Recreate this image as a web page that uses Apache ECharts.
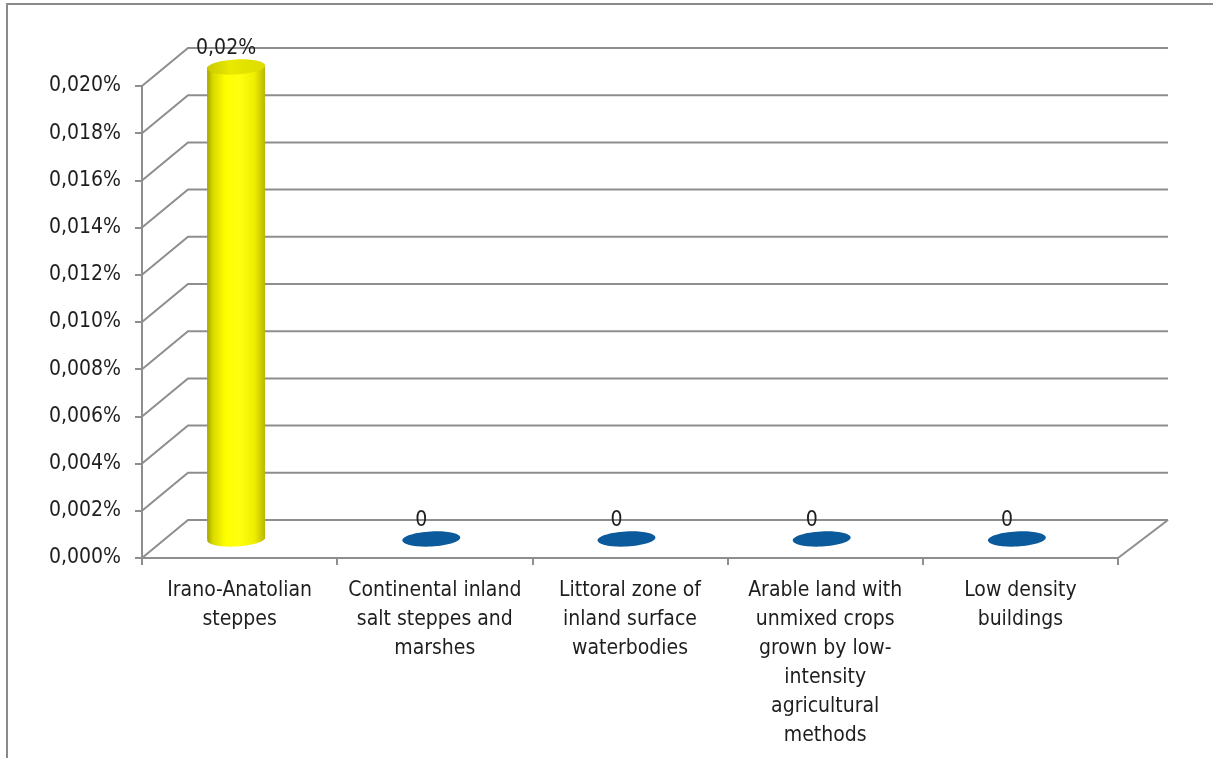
<!DOCTYPE html>
<html>
<head>
<meta charset="utf-8">
<title>Habitat shares</title>
<script src="https://cdn.jsdelivr.net/npm/echarts@6/dist/echarts.min.js"></script>
<style>
  html, body { margin: 0; padding: 0; background: #ffffff; }
  #chart { width: 1213px; height: 758px; }
</style>
</head>
<body>
<div id="chart"></div>
<script>
// Categories (display text, wrapped as on the axis)
const categories = [
  'Irano-Anatolian\nsteppes',
  'Continental inland\nsalt steppes and\nmarshes',
  'Littoral zone of\ninland surface\nwaterbodies',
  'Arable land with\nunmixed crops\ngrown by low-\nintensity\nagricultural\nmethods',
  'Low density\nbuildings'
];
// Share of area, in percent
const values = [0.02, 0, 0, 0, 0];
// Value axis ticks, in percent
const yTicks = [0, 0.002, 0.004, 0.006, 0.008, 0.010, 0.012, 0.014, 0.016, 0.018, 0.020];

const FONT = 'DejaVu Sans Condensed, DejaVu Sans, sans-serif';
const TEXT = '#1e1e1e';
const LINE = '#8e8e8e';
// depth of the 3D box: back wall offset from the front plane
const DX_L = 46, DX_R = 50, DY = -38;
const DY_MID = DY / 2;
const BAR_RX = 29, BAR_RY = 7.5, BAR_DX = -3.5;
const TILT = 0.05; // slight perspective tilt of the ellipses, radians

const chart = echarts.init(document.getElementById('chart'), null, { renderer: 'canvas' });

function fmtAxis(v) { return v.toFixed(3).replace('.', ',') + '%'; }
function fmtLabel(v) { return v === 0 ? '0' : v.toFixed(2).replace('.', ',') + '%'; }

// Back wall gridlines, left-side diagonals and floor of the 3D box
function renderFrame(params, api) {
  const v = api.value(1);
  const cs = params.coordSys;
  const y = api.coord([0, v])[1];
  const xl = cs.x, xr = cs.x + cs.width;
  const children = [{
    type: 'polyline',
    shape: { points: [[xl, y], [xl + DX_L, y + DY], [xr + DX_R, y + DY]] },
    style: { stroke: LINE, lineWidth: 2, fill: null }
  }];
  if (v === 0) {
    children.push({
      type: 'line',
      shape: { x1: xr, y1: y, x2: xr + DX_R, y2: y + DY },
      style: { stroke: LINE, lineWidth: 2 }
    });
  }
  return { type: 'group', children };
}

const yellowSide = {
  type: 'linear', x: 0, y: 0, x2: 1, y2: 0,
  colorStops: [
    { offset: 0, color: '#a3a300' },
    { offset: 0.1, color: '#d9d900' },
    { offset: 0.32, color: '#ffff00' },
    { offset: 0.55, color: '#ffff10' },
    { offset: 0.82, color: '#eeee00' },
    { offset: 1, color: '#b8b800' }
  ]
};
const yellowTop = {
  type: 'linear', x: 0, y: 0, x2: 1, y2: 0,
  colorStops: [
    { offset: 0, color: '#c9c900' },
    { offset: 0.4, color: '#e8e800' },
    { offset: 1, color: '#dcdc00' }
  ]
};
const blue = '#0b5a9b';

function ellipse(cx, cy, fill) {
  return {
    type: 'ellipse',
    shape: { cx: cx, cy: cy, rx: BAR_RX, ry: BAR_RY },
    rotation: TILT,
    originX: cx,
    originY: cy,
    style: { fill: fill }
  };
}

// Cylinders with their value labels
function renderCylinder(params, api) {
  const i = api.value(0);
  const v = api.value(1);
  const base = api.coord([i, 0]);
  const cx = base[0] + BAR_DX;
  const yb = base[1] + DY_MID;
  const yt = api.coord([i, v])[1] + DY_MID;
  const children = [];
  if (yb - yt < 1) {
    children.push(ellipse(cx, yb, blue));
  } else {
    children.push(ellipse(cx, yb, yellowSide));
    children.push({
      type: 'rect',
      shape: { x: cx - BAR_RX, y: yt, width: BAR_RX * 2, height: yb - yt },
      style: { fill: yellowSide }
    });
    children.push(ellipse(cx, yt, yellowTop));
  }
  children.push({
    type: 'text',
    x: cx - 10,
    y: yt - 18,
    style: {
      text: fmtLabel(v),
      fill: TEXT,
      font: '21px ' + FONT,
      align: 'center',
      verticalAlign: 'middle'
    }
  });
  return { type: 'group', children };
}

chart.setOption({
  backgroundColor: '#ffffff',
  animation: false,
  graphic: [{
    type: 'rect',
    shape: { x: 7, y: 4, width: 1240, height: 790 },
    style: { stroke: '#8a8a8a', lineWidth: 2, fill: null },
    silent: true
  }],
  grid: { left: 142, right: 95, top: 86, bottom: 200, containLabel: false },
  xAxis: {
    type: 'category',
    data: categories,
    boundaryGap: true,
    axisLine: { show: true, lineStyle: { color: LINE, width: 2 } },
    axisTick: { show: true, length: 7, lineStyle: { color: LINE, width: 2 } },
    axisLabel: {
      interval: 0,
      margin: 18,
      color: TEXT,
      fontFamily: FONT,
      fontSize: 21,
      lineHeight: 29,
      align: 'center'
    },
    splitLine: { show: false }
  },
  yAxis: {
    type: 'value',
    min: 0,
    max: 0.02,
    interval: 0.002,
    axisLine: { show: true, lineStyle: { color: LINE, width: 2 } },
    axisTick: { show: true, length: 7, lineStyle: { color: LINE, width: 2 } },
    axisLabel: {
      margin: 21,
      padding: [5, 0, 0, 0],
      color: TEXT,
      fontFamily: FONT,
      fontSize: 21,
      formatter: fmtAxis
    },
    splitLine: { show: false }
  },
  series: [
    {
      type: 'custom',
      name: 'frame',
      renderItem: renderFrame,
      data: yTicks.map(v => [0, v]),
      z: 1,
      silent: true
    },
    {
      type: 'custom',
      name: 'share',
      renderItem: renderCylinder,
      data: values.map((v, i) => [i, v]),
      z: 3,
      silent: true
    }
  ]
});
</script>
</body>
</html>
